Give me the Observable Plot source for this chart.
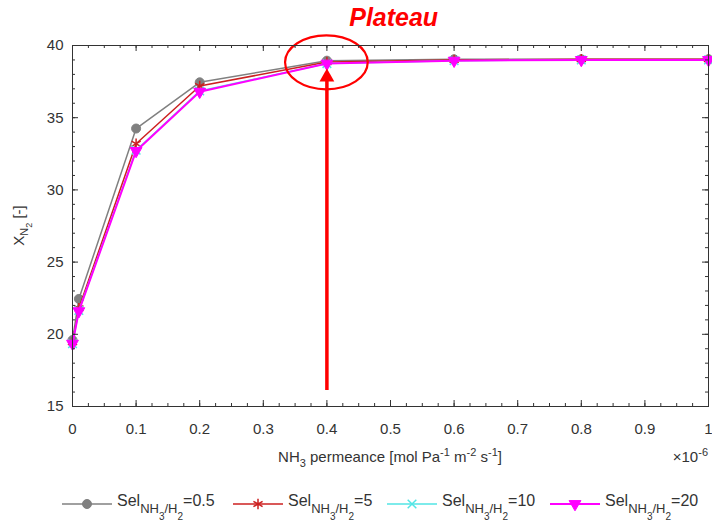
<!DOCTYPE html>
<html><head><meta charset="utf-8">
<script src="https://cdn.jsdelivr.net/npm/d3@7"></script>
<script src="https://cdn.jsdelivr.net/npm/@observablehq/plot@0.6"></script>
<style>
body{margin:0;background:#fff;}
#chart{width:712px;height:521px;background:#fff;}
svg{display:block;}
</style></head><body><div id="chart"></div>
<script>
// NH3 permeance, in units of 1e-6 mol Pa^-1 m^-2 s^-1
const permeance = [0, 0.01, 0.1, 0.2, 0.4, 0.6, 0.8, 1.0];
// X_N2 [-] for each NH3/H2 selectivity
const selValues = ["0.5", "5", "10", "20"];
const xN2_sel0_5 = [19.6, 22.45, 34.25, 37.45, 38.95, 39.05, 39.05, 39.05];
const xN2_sel5   = [19.45, 21.8, 33.2, 37.2, 38.85, 39.0, 39.05, 39.05];
const xN2_sel10  = [19.35, 21.65, 32.75, 36.85, 38.75, 38.95, 39.0, 39.0];
const xN2_sel20  = [19.35, 21.6, 32.7, 36.8, 38.75, 38.95, 39.0, 39.0];
// axis ticks
const xTickValues = [0, 0.1, 0.2, 0.3, 0.4, 0.5, 0.6, 0.7, 0.8, 0.9, 1];
const xTickLabels = ["0", "0.1", "0.2", "0.3", "0.4", "0.5", "0.6", "0.7", "0.8", "0.9", "1"];
const yTickValues = [15, 20, 25, 30, 35, 40];
const yTickLabels = ["15", "20", "25", "30", "35", "40"];
const xMinorStep = 0.025;
const yMinorStep = 1;
// annotation (data coordinates)
const plateauLabel = "Plateau";
const plateauText = {x: 0.505, y: 41.9};
const plateauRing = {x: 0.4, y: 38.8, rx: 0.065, ry: 1.87};
const arrow = {x: 0.4, from: 16.1, tip: 38.4};

const seriesY = [xN2_sel0_5, xN2_sel5, xN2_sel10, xN2_sel20];
const styles = [
  {stroke: "#808080", width: 1.5, symbol: "circle", fill: "#808080", r: 4.5, rotate: 0, sw: 1},
  {stroke: "#cc2020", width: 1.5, symbol: "asterisk", fill: "none", r: 5, rotate: 0, sw: 1.5},
  {stroke: "#52e5e5", width: 1.5, symbol: "times", fill: "none", r: 4, rotate: 0, sw: 1.5},
  {stroke: "#ff00ff", width: 2, symbol: "triangle", fill: "#ff00ff", r: 4.4, rotate: 180, sw: 1}
];
const rows = seriesY.flatMap((arr, s) => arr.map((v, i) => ({x: permeance[i], y: v, s})));

const xMinor = d3.range(0, 1 + 1e-9, xMinorStep);
const yMinor = d3.range(15, 40 + 1e-9, yMinorStep);
const fontFamily = "'Liberation Sans', Arial, Helvetica, sans-serif";
const ink = "#333333";

const W = 712, H = 475, mL = 72, mR = 4, mT = 45, mB = 69;
const fw = W - mL - mR, fh = H - mT - mB;

const seriesMarks = styles.flatMap((st, s) => {
  const data = rows.filter(d => d.s === s);
  return [
    Plot.line(data, {x: "x", y: "y", stroke: st.stroke, strokeWidth: st.width}),
    Plot.dot(data, {x: "x", y: "y", symbol: st.symbol, r: st.r, fill: st.fill, stroke: st.stroke, strokeWidth: st.sw, rotate: st.rotate})
  ];
});

// inward tick marks on all four sides
const tickMarks = (len, xv, yv) => [
  Plot.tickX(xv, {x: d => d, insetTop: fh - len, stroke: ink}),
  Plot.tickX(xv, {x: d => d, insetBottom: fh - len, stroke: ink}),
  Plot.tickY(yv, {y: d => d, insetRight: fw - len, stroke: ink}),
  Plot.tickY(yv, {y: d => d, insetLeft: fw - len, stroke: ink})
];

const plot = Plot.plot({
  width: W, height: H,
  marginLeft: mL, marginRight: mR, marginTop: mT, marginBottom: mB,
  style: {fontFamily, fontSize: "15px", color: ink, background: "#fff", overflow: "visible"},
  x: {domain: [0, 1]},
  y: {domain: [15, 40]},
  marks: [
    ...seriesMarks,
    // annotation: ellipse around plateau
    Plot.dot([plateauRing], {
      x: "x", y: "y",
      render: (index, scales) => {
        const cx = scales.x(plateauRing.x), cy = scales.y(plateauRing.y);
        const rx = scales.x(plateauRing.x + plateauRing.rx) - cx;
        const ry = scales.y(plateauRing.y - plateauRing.ry) - cy;
        const g = d3.create("svg:g");
        g.append("ellipse").attr("cx", cx).attr("cy", cy).attr("rx", rx).attr("ry", ry)
          .attr("fill", "none").attr("stroke", "#ff0000").attr("stroke-width", 2.2);
        return g.node();
      }
    }),
    Plot.ruleX([arrow], {x: "x", y1: "from", y2: d => d.tip - 0.6, stroke: "#ff0000", strokeWidth: 3.5}),
    Plot.dot([arrow], {x: "x", y: d => d.tip - 0.59, symbol: "triangle", r: 5.5, fill: "#ff0000"}),
    Plot.text([plateauText], {x: "x", y: "y", text: () => plateauLabel, fill: "#ff0000",
      fontSize: 25, fontWeight: "bold", fontStyle: "italic", textAnchor: "middle"}),
    Plot.frame({stroke: ink, strokeWidth: 1}),
    ...tickMarks(6, xTickValues, yTickValues),
    ...tickMarks(3, xMinor, yMinor),
    Plot.axisX({ticks: xTickValues, tickSize: 0, tickPadding: 17, label: null,
      tickFormat: d => xTickLabels[xTickValues.indexOf(d)]}),
    Plot.axisY({ticks: yTickValues, tickSize: 0, tickPadding: 9, label: null,
      tickFormat: d => yTickLabels[yTickValues.indexOf(d)]})
  ]
});

// rich text helper: parts = [text, baselineOffset, fontSize]
function rich(textSel, parts) {
  let cur = 0;
  for (const [t, off, fs] of parts) {
    textSel.append("tspan").attr("dy", off - cur).attr("font-size", fs).text(t);
    cur = off;
  }
}
const svg = d3.select(plot);
const xs = plot.scale("x"), ys = plot.scale("y");
const xMid = (xs.range[0] + xs.range[1]) / 2;
const yMid = (ys.range[0] + ys.range[1]) / 2;
const bottom = ys.range[0];

const xl = svg.append("text").attr("x", xMid).attr("y", bottom + 56).attr("text-anchor", "middle")
  .attr("fill", ink).style("white-space", "pre").attr("font-size", 15);
rich(xl, [["NH", 0, 15], ["3", 5, 11], [" permeance [mol Pa", 0, 15], ["-1", -6, 11], [" m", 0, 15], ["-2", -6, 11], [" s", 0, 15], ["-1", -6, 11], ["]", 0, 15]]);

const ex = svg.append("text").attr("x", xs.range[1]).attr("y", bottom + 56).attr("text-anchor", "end")
  .attr("fill", ink).attr("font-size", 15);
rich(ex, [["\u00d710", 0, 15], ["-6", -6, 11]]);

const yl = svg.append("text").attr("transform", `translate(24,${yMid}) rotate(-90)`).attr("text-anchor", "middle")
  .attr("fill", ink).style("white-space", "pre").attr("font-size", 15);
rich(yl, [["X", 0, 15], ["N", 4, 11], ["2", 8, 9], [" [-]", 0, 15]]);

document.getElementById("chart").appendChild(plot);

// legend (below the plot)
const legendX = [62, 233, 387, 550];
const leg = d3.select("#chart").append("svg").attr("width", 712).attr("height", 46)
  .attr("font-family", fontFamily).style("background", "#fff");
styles.forEach((st, s) => {
  const g = leg.append("g").attr("transform", `translate(${legendX[s]},0)`);
  g.append("line").attr("x1", 0).attr("x2", 50).attr("y1", 29).attr("y2", 29)
    .attr("stroke", st.stroke).attr("stroke-width", st.width);
  const sym = {circle: d3.symbolCircle, asterisk: d3.symbolAsterisk, times: d3.symbolTimes, triangle: d3.symbolTriangle}[st.symbol];
  g.append("path").attr("d", d3.symbol(sym, Math.PI * st.r * st.r)())
    .attr("transform", `translate(25,29) rotate(${st.rotate})`)
    .attr("fill", st.fill).attr("stroke", st.stroke).attr("stroke-width", st.sw);
  const t = g.append("text").attr("x", 55).attr("y", 31).attr("fill", ink).attr("font-size", 16);
  rich(t, [["Sel", 0, 16], ["NH", 7, 13], ["3", 14, 10], ["/H", 7, 13], ["2", 14, 10], ["=" + selValues[s], 0, 16]]);
});
</script>
</body></html>
